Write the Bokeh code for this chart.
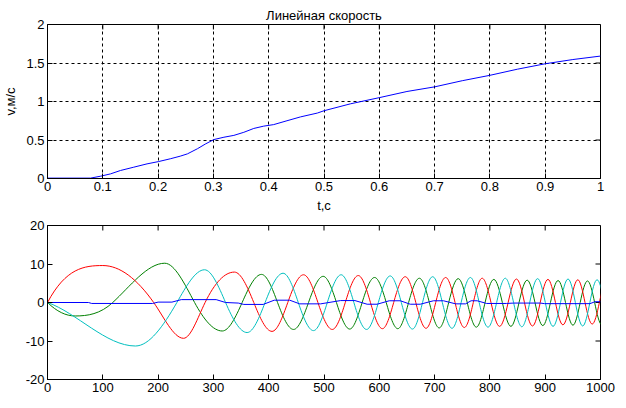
import math
from bokeh.plotting import figure
from bokeh.models import Range1d, FixedTicker
from bokeh.layouts import column
from bokeh.embed import file_html
from bokeh.resources import INLINE

# ---------------- data: top panel (linear speed) ----------------
title_text = "Линейная скорость"
ylabel_top = "v,м/с"
xlabel_top = "t,c"

t_v = [0, 0.078, 0.096, 0.114, 0.132, 0.156, 0.180, 0.201, 0.222, 0.240, 0.253,
       0.271, 0.286, 0.301, 0.319, 0.337, 0.355, 0.373, 0.391, 0.409, 0.433,
       0.4575, 0.488, 0.50, 0.548, 0.60, 0.65, 0.70, 0.75, 0.80, 0.85, 0.90,
       0.95, 1.0]
v = [0.005, 0.005, 0.03, 0.06, 0.104, 0.147, 0.19, 0.22, 0.256, 0.29, 0.32,
     0.386, 0.45, 0.506, 0.536, 0.56, 0.60, 0.65, 0.68, 0.70, 0.75,
     0.80, 0.85, 0.88, 0.97, 1.05, 1.13, 1.19, 1.27, 1.34, 1.42, 1.49,
     1.545, 1.59]

top_xticks = [0, 0.1, 0.2, 0.3, 0.4, 0.5, 0.6, 0.7, 0.8, 0.9, 1.0]
top_xlabels = ["0", "0.1", "0.2", "0.3", "0.4", "0.5", "0.6", "0.7", "0.8", "0.9", "1"]
top_yticks = [0, 0.5, 1.0, 1.5, 2.0]
top_ylabels = ["0", "0.5", "1", "1.5", "2"]

# ---------------- data: bottom panel (phase currents) ----------------
# key points: zero crossings and extrema
red_t = [0, 100, 192, 246, 285, 338, 373, 406, 434.5, 463, 489, 515, 538.5, 562,
         584, 605.7, 626, 647, 666, 684.5, 702, 720, 737, 753.7, 770, 786, 802,
         817.5, 833, 848, 862.5, 877, 891, 905, 918.5, 932, 945.5, 959, 972, 985,
         998, 1011]
red_y = [0, 9.6, 0, -9.3, 0, 7.9, 0, -7.5, 0, 7.2, 0, -7.0, 0, 7.0,
         0, -6.8, 0, 6.7, 0, -6.7, 0, 6.5, 0, -6.5, 0, 6.3, 0,
         -6.2, 0, 6.1, 0, -6.1, 0, 6.0, 0, -5.8, 0, 5.9, 0, -5.6,
         0, 5.7]
red_start_slope = 0.27

green_t = [0, 50, 118, 212, 266, 316, 352, 387, 416, 445, 472, 498.5, 522.5,
           546.5, 569, 591.5, 612.5, 633.5, 653, 672.5, 690.5, 708.3, 725.5,
           742.7, 759, 775.5, 791.3, 807.1, 822.5, 838, 852.7, 867.4, 881.5,
           895.7, 909.5, 923.3, 936.7, 950.2, 963.3, 976.5, 989.4, 1002.4]
green_y = [0, -3.5, 0, 10.2, 0, -7.4, 0, 7.3, 0, -7.0, 0, 6.8, 0,
           -6.9, 0, 6.5, 0, -6.8, 0, 6.3, 0, -6.6, 0,
           6.2, 0, -6.4, 0, 6.0, 0, -6.2, 0, 5.8, 0,
           -6.0, 0, 5.7, 0, -5.9, 0, 5.6, 0, -5.8]
green_start_slope = -0.14

cyan_t = [0, 159, 234, 284, 322, 361, 393.5, 426, 453.5, 481, 506, 531, 554,
          577, 598.3, 619.7, 639.8, 660, 678.2, 696.5, 714, 731.5, 748, 764.7,
          780.6, 796.6, 812.2, 827.8, 842.8, 857.8, 872, 886.3, 900.2, 914.2,
          927.7, 941.3, 954.5, 967.8, 980.8, 993.8, 1007, 1020]
cyan_y = [0, -11.3, 0, 8.5, 0, -7.8, 0, 7.6, 0, -7.3, 0, 7.2, 0,
          -7.0, 0, 6.9, 0, -6.9, 0, 6.7, 0, -6.7, 0, 6.5,
          0, -6.4, 0, 6.3, 0, -6.3, 0, 6.2, 0, -6.2,
          0, 6.1, 0, -6.1, 0, 5.9, 0, -5.8]
cyan_start_slope = -0.05

blue_t = [0, 74, 80, 190, 200, 225, 242, 305, 322, 345, 355, 390, 410, 438, 456,
          494, 530, 556, 578, 596, 618, 638, 656, 674, 698, 716, 738, 756, 766,
          777, 794, 830, 843, 891, 899, 981, 990, 1000]
blue_y = [0, 0, -0.25, -0.25, 0.1, 0.1, 0.75, 0.75, 0.0, -0.15, -0.5, -0.5, 0.6,
          0.6, -0.35, -0.35, 0.5, 0.5, -0.45, -0.45, 0.45, 0.45, -0.45, -0.45,
          0.45, 0.45, -0.35, -0.35, 0.45, 0.45, -0.25, -0.25, -0.15, -0.15,
          -0.3, -0.3, 0.2, 0.2]

bot_xticks = [0, 100, 200, 300, 400, 500, 600, 700, 800, 900, 1000]
bot_xlabels = ["0", "100", "200", "300", "400", "500", "600", "700", "800", "900", "1000"]
bot_yticks = [-20, -10, 0, 10, 20]
bot_ylabels = ["-20", "-10", "0", "10", "20"]

FONT = "Liberation Sans"
FS = "13px"
TICK = 5


def smooth_segments(ts, ys, m_start):
    """Cubic segments through the read key points (flat at extrema)."""
    n = len(ts)
    m = [0.0] * n
    m[0] = m_start
    for k in range(1, n - 1):
        if ys[k] == 0:
            m[k] = 1.57 * (ys[k + 1] - ys[k - 1]) / (ts[k + 1] - ts[k - 1])
    d = dict(x0=[], y0=[], x1=[], y1=[], cx0=[], cy0=[], cx1=[], cy1=[])
    for k in range(n - 1):
        dt = ts[k + 1] - ts[k]
        d["x0"].append(ts[k]); d["y0"].append(ys[k])
        d["x1"].append(ts[k + 1]); d["y1"].append(ys[k + 1])
        d["cx0"].append(ts[k] + dt / 3); d["cy0"].append(ys[k] + m[k] * dt / 3)
        d["cx1"].append(ts[k + 1] - dt / 3); d["cy1"].append(ys[k + 1] - m[k + 1] * dt / 3)
    return d


def style_axis(ax, ticks, labels):
    ax.ticker = FixedTicker(ticks=ticks)
    ax.axis_line_color = "black"
    ax.major_tick_line_color = "black"
    ax.major_tick_in = TICK
    ax.major_tick_out = 0
    ax.minor_tick_in = 0
    ax.minor_tick_out = 0
    ax.major_label_overrides = dict(zip(ticks, labels))
    ax.major_label_text_font = FONT
    ax.major_label_text_font_size = FS
    ax.major_label_text_color = "black"
    ax.major_label_standoff = 3
    ax.axis_label_text_font = FONT
    ax.axis_label_text_font_size = FS
    ax.axis_label_text_font_style = "normal"
    ax.axis_label_text_color = "black"


def base_fig(h, xr, yr, top, bottom):
    p = figure(width=618, height=h, x_range=xr, y_range=yr,
               output_backend="svg", toolbar_location=None,
               min_border_left=47, min_border_right=18,
               min_border_top=top, min_border_bottom=bottom)
    p.outline_line_color = "black"
    p.outline_line_alpha = 1
    p.background_fill_color = "white"
    p.border_fill_color = "white"
    return p


def frame_ticks(p, xticks, yticks):
    """Inward ticks on the top and right edges of the frame."""
    xr, yr = p.x_range, p.y_range
    p.ray(x=[xr.end] * len(yticks), y=yticks, length=TICK, length_units="screen",
          angle=math.pi, line_color="black", line_width=1)
    p.ray(x=xticks, y=[yr.end] * len(xticks), length=TICK, length_units="screen",
          angle=-math.pi / 2, line_color="black", line_width=1)


# ---------------- top figure ----------------
p1 = base_fig(215, Range1d(0, 1), Range1d(0, 2), 24, 37)
p1.title.text = title_text
p1.title.align = "center"
p1.title.vertical_align = "top"
p1.title.text_line_height = 1.5
p1.title.text_font = FONT
p1.title.text_font_size = FS
p1.title.text_font_style = "normal"
p1.title.text_color = "black"
p1.title.standoff = 0

style_axis(p1.xaxis[0], top_xticks, top_xlabels)
style_axis(p1.yaxis[0], top_yticks, top_ylabels)
p1.xaxis[0].axis_label = xlabel_top
p1.xaxis[0].axis_label_standoff = 4
p1.yaxis[0].axis_label = ylabel_top
p1.yaxis[0].axis_label_standoff = 5

p1.xgrid.ticker = FixedTicker(ticks=top_xticks)
p1.ygrid.ticker = FixedTicker(ticks=top_yticks)
for g in (p1.xgrid[0], p1.ygrid[0]):
    g.grid_line_color = "black"
    g.grid_line_alpha = 1
    g.grid_line_dash = "3 3"
    g.grid_line_width = 1

frame_ticks(p1, top_xticks, top_yticks)
p1.line(t_v, v, line_color="#0000ff", line_width=1)

# ---------------- bottom figure ----------------
p2 = base_fig(185, Range1d(0, 1000), Range1d(-20, 20), 10, 21)
p2.grid.visible = False
style_axis(p2.xaxis[0], bot_xticks, bot_xlabels)
style_axis(p2.yaxis[0], bot_yticks, bot_ylabels)
frame_ticks(p2, bot_xticks, bot_yticks)

for ts, ys, m0, col in ((green_t, green_y, green_start_slope, "#008000"),
                        (red_t, red_y, red_start_slope, "#ff0000"),
                        (cyan_t, cyan_y, cyan_start_slope, "#00bfbf")):
    seg = smooth_segments(ts, ys, m0)
    p2.bezier(x0=seg["x0"], y0=seg["y0"], x1=seg["x1"], y1=seg["y1"],
              cx0=seg["cx0"], cy0=seg["cy0"], cx1=seg["cx1"], cy1=seg["cy1"],
              line_color=col, line_width=1)

p2.line(blue_t, blue_y, line_color="#0000ff", line_width=1)

layout = column(p1, p2)
open("out.html", "w").write(file_html(layout, INLINE))
